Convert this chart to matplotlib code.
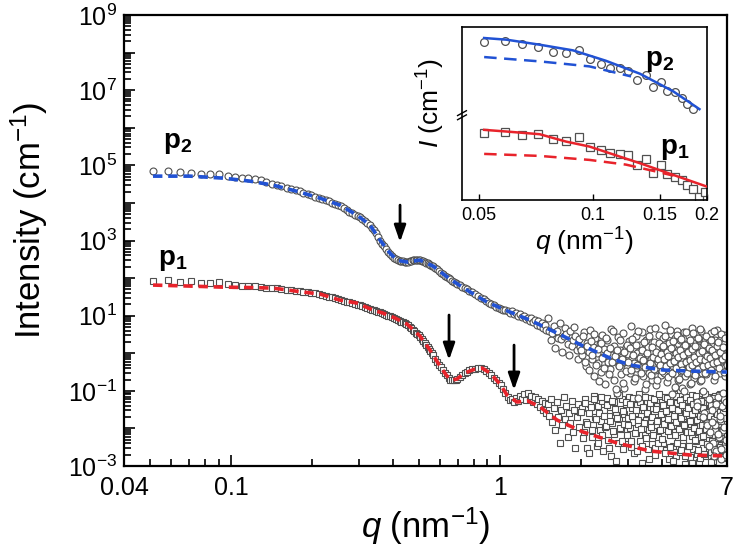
import numpy as np
import matplotlib
matplotlib.use('Agg')
import matplotlib.pyplot as plt
from matplotlib.ticker import FixedLocator, FuncFormatter, LogLocator, NullFormatter

plt.rcParams['font.family'] = 'Liberation Sans'
plt.rcParams['mathtext.fontset'] = 'custom'
plt.rcParams['mathtext.rm'] = 'Liberation Sans'
plt.rcParams['mathtext.it'] = 'Liberation Sans:italic'
plt.rcParams['mathtext.bf'] = 'Liberation Sans:bold'

# ---- main panel: q (nm^-1), intensity (cm^-1) ----
q_low = [0.0511, 0.0582, 0.0646, 0.0710, 0.0774, 0.0838, 0.0905, 0.0973, 0.1035, 0.1096,
         0.1160, 0.1229, 0.129, 0.135, 0.142, 0.148, 0.154, 0.161, 0.167, 0.174,
         0.180, 0.186, 0.193, 0.199, 0.206, 0.212, 0.219, 0.225, 0.232, 0.238,
         0.244, 0.251, 0.257, 0.264, 0.270, 0.276, 0.283, 0.289, 0.296, 0.302,
         0.308, 0.315, 0.321, 0.328, 0.334, 0.340, 0.347, 0.353, 0.360, 0.366,
         0.372, 0.379, 0.385, 0.392, 0.398, 0.404, 0.411, 0.417, 0.424, 0.430,
         0.436, 0.443, 0.449, 0.456, 0.462, 0.468, 0.475, 0.481, 0.488, 0.494,
         0.500, 0.507, 0.513, 0.520, 0.526, 0.532, 0.539, 0.545, 0.552, 0.558,
         0.564, 0.575, 0.585, 0.595, 0.605, 0.615, 0.625, 0.635, 0.645, 0.655,
         0.665, 0.675, 0.685, 0.695, 0.71, 0.725, 0.74, 0.755, 0.77, 0.79,
         0.81, 0.83, 0.85, 0.87, 0.89, 0.91, 0.93, 0.95, 0.97, 0.99]
p2_low = [7.14e4, 7.14e4, 6.73e4, 6.32e4, 5.73e4, 5.84e4, 5.84e4, 5.26e4, 4.95e4, 4.66e4,
          4.49e4, 4.22e4, 4.04e4, 3.55e4, 3.20e4, 3.05e4, 2.80e4, 2.55e4, 2.35e4, 2.15e4,
          2.02e4, 1.85e4, 1.70e4, 1.60e4, 1.45e4, 1.38e4, 1.28e4, 1.18e4, 1.10e4, 1.02e4,
          9.6e3, 9.0e3, 8.2e3, 7.4e3, 6.6e3, 5.9e3, 5.3e3, 4.9e3, 4.5e3, 4.1e3,
          3.7e3, 3.3e3, 2.9e3, 2.6e3, 2.2e3, 1.9e3, 1.55e3, 1.25e3, 1.0e3, 820,
          700, 590, 500, 440, 390, 350, 320, 300, 290, 285,
          280, 275, 270, 272, 280, 290, 295, 300, 305, 300,
          300, 295, 290, 280, 270, 255, 245, 235, 225, 215,
          205, 190, 170, 155, 140, 125, 112, 104, 98, 92,
          85, 80, 74, 70, 64, 58, 54, 50, 46, 42,
          38, 34, 30, 28, 25, 22, 21, 19, 17.5, 16]
p1_low = [85, 88, 80, 83, 72, 75, 77, 68, 65, 63,
          62, 60, 58, 56, 55, 53, 51, 49, 48, 46,
          45, 43, 42, 40, 39, 37.5, 36, 34, 32, 30.5,
          29, 27.5, 26, 24.5, 23.5, 22.5, 21.5, 20.5, 19.5, 19,
          18, 17, 16, 15, 14.5, 13.8, 13.2, 12.7, 12.2, 11.8,
          11.2, 10.6, 10.1, 9.6, 9.2, 8.7, 8.2, 7.8, 7.3, 6.9,
          6.6, 6.3, 6.1, 5.6, 5.1, 4.6, 4.2, 3.8, 3.5, 3.2,
          3.0, 2.7, 2.4, 2.1, 1.85, 1.65, 1.45, 1.3, 1.15, 1.0,
          0.88, 0.72, 0.6, 0.5, 0.42, 0.35, 0.3, 0.26, 0.22, 0.2,
          0.19, 0.195, 0.2, 0.21, 0.23, 0.26, 0.29, 0.32, 0.35, 0.37,
          0.39, 0.40, 0.40, 0.37, 0.33, 0.30, 0.26, 0.22, 0.19, 0.16]

q_mid = [1.01, 1.03, 1.05, 1.07, 1.09, 1.11, 1.13, 1.15, 1.17, 1.19,
         1.21, 1.23, 1.25, 1.27, 1.29, 1.31, 1.33, 1.35, 1.37, 1.39,
         1.41, 1.43, 1.45, 1.47, 1.49, 1.51, 1.53, 1.55, 1.57, 1.59,
         1.61, 1.63, 1.65, 1.67, 1.69, 1.71, 1.73, 1.75, 1.77, 1.79,
         1.81, 1.83, 1.85, 1.87, 1.89, 1.91, 1.93, 1.95, 1.97, 1.99]
p2_mid = [15.5, 14.0, 14.5, 13.0, 12.0, 13.5, 11.0, 11.5, 10.0, 10.8,
          9.0, 9.6, 8.0, 8.8, 7.2, 8.5, 6.6, 7.5, 5.8, 7.0,
          5.2, 6.5, 4.8, 5.5, 4.2, 8.5, 3.8, 2.2, 3.4, 5.2,
          1.4, 4.0, 2.6, 6.5, 2.4, 1.1, 2.8, 4.6, 3.2, 1.8,
          0.9, 3.8, 1.6, 2.2, 5.0, 2.9, 1.2, 0.7, 2.4, 1.5]
p1_mid = [0.14, 0.11, 0.085, 0.07, 0.058, 0.062, 0.05, 0.066, 0.055, 0.075,
          0.06, 0.08, 0.058, 0.085, 0.062, 0.075, 0.05, 0.07, 0.045, 0.062,
          0.038, 0.055, 0.03, 0.048, 0.026, 0.045, 0.022, 0.06, 0.015, 0.035,
          0.009, 0.05, 0.02, 0.004, 0.03, 0.012, 0.07, 0.018, 0.04, 0.006,
          0.025, 0.014, 0.055, 0.008, 0.03, 0.003, 0.02, 0.045, 0.011, 0.028]

q_tail = [2.02, 2.05, 2.07, 2.10, 2.12, 2.15, 2.17, 2.20, 2.22, 2.25,
          2.27, 2.30, 2.32, 2.35, 2.37, 2.40, 2.42, 2.45, 2.47, 2.50,
          2.52, 2.55, 2.57, 2.60, 2.62, 2.65, 2.67, 2.70, 2.72, 2.75,
          2.77, 2.80, 2.82, 2.85, 2.87, 2.90, 2.92, 2.95, 2.97, 3.00,
          3.02, 3.05, 3.07, 3.10, 3.12, 3.15, 3.17, 3.20, 3.22, 3.25,
          3.27, 3.30, 3.32, 3.35, 3.37, 3.40, 3.42, 3.45, 3.47, 3.50,
          3.52, 3.55, 3.57, 3.60, 3.62, 3.65, 3.67, 3.70, 3.72, 3.75,
          3.77, 3.80, 3.82, 3.85, 3.87, 3.90, 3.92, 3.95, 3.97, 4.00,
          4.02, 4.05, 4.07, 4.10, 4.12, 4.15, 4.17, 4.20, 4.22, 4.25,
          4.27, 4.30, 4.32, 4.35, 4.37, 4.40, 4.42, 4.45, 4.47, 4.50,
          4.52, 4.55, 4.57, 4.60, 4.62, 4.65, 4.67, 4.70, 4.72, 4.75,
          4.77, 4.80, 4.82, 4.85, 4.87, 4.90, 4.92, 4.95, 4.97, 5.00,
          5.02, 5.05, 5.07, 5.10, 5.12, 5.15, 5.17, 5.20, 5.22, 5.25,
          5.27, 5.30, 5.32, 5.35, 5.37, 5.40, 5.42, 5.45, 5.47, 5.50,
          5.52, 5.55, 5.57, 5.60, 5.62, 5.65, 5.67, 5.70, 5.72, 5.75,
          5.77, 5.80, 5.82, 5.85, 5.87, 5.90, 5.92, 5.95, 5.97, 6.00,
          6.02, 6.05, 6.07, 6.10, 6.12, 6.15, 6.17, 6.20, 6.22, 6.25,
          6.27, 6.30, 6.32, 6.35, 6.37, 6.40, 6.42, 6.45, 6.47, 6.50,
          6.52, 6.55, 6.57, 6.60, 6.62, 6.65, 6.67, 6.70, 6.72, 6.75,
          6.77, 6.80, 6.82, 6.85, 6.87, 6.90, 6.92, 6.95, 6.97, 7.00]
p2_tail = [0.9, 3.6, 1.3, 0.45, 1.9, 1.1, 4.2, 0.7, 1.5, 0.25,
           2.6, 1.0, 0.55, 1.8, 0.32, 3.1, 0.8, 1.3, 0.15, 2.2,
           0.6, 1.1, 0.38, 4.5, 0.9, 0.2, 1.6, 0.7, 0.09, 2.7,
           0.5, 1.2, 0.28, 0.8, 3.4, 0.12, 0.6, 1.5, 0.4, 0.95,
           2.1, 0.3, 5.2, 0.75, 1.3, 0.18, 0.55, 2.8, 0.4, 1.0,
           0.065, 1.7, 0.5, 0.85, 3.6, 0.25, 1.2, 0.6, 0.11, 2.3,
           0.45, 0.9, 1.5, 0.3, 4.4, 0.7, 0.2, 1.1, 0.5, 2.0,
           0.35, 0.8, 0.14, 1.4, 0.6, 3.0, 0.42, 0.95, 0.26, 1.6,
           0.5, 2.5, 0.3, 0.85, 5.5, 0.4, 1.2, 0.17, 0.65, 1.9,
           0.35, 0.9, 3.3, 0.55, 0.08, 1.4, 0.45, 0.75, 2.6, 0.28,
           1.0, 0.6, 4.0, 0.2, 1.2, 0.5, 0.85, 2.2, 0.33, 0.7,
           0.12, 1.5, 0.42, 3.6, 0.95, 0.25, 0.6, 1.8, 0.38, 1.1,
           0.5, 2.9, 0.3, 0.8, 0.15, 1.3, 4.8, 0.45, 0.65, 1.9,
           0.22, 1.0, 0.55, 3.2, 0.35, 0.05, 0.85, 1.5, 0.4, 2.4,
           0.7, 0.18, 1.1, 0.5, 3.9, 0.3, 0.9, 0.1, 1.6, 0.45,
           0.025, 2.1, 0.6, 0.28, 1.2, 0.014, 0.8, 2.7, 0.4, 0.06,
           1.3, 0.35, 0.008, 0.9, 3.4, 0.5, 0.03, 1.7, 0.004, 0.65,
           0.2, 2.3, 0.012, 0.8, 0.45, 0.0025, 1.1, 4.2, 0.07, 0.55,
           0.006, 1.5, 0.3, 0.018, 0.9, 2.6, 0.0015, 0.4, 0.04, 1.2,
           0.009, 0.7, 3.0, 0.003, 0.25, 1.4, 0.05, 0.6, 0.002, 0.35]
p1_tail = [0.035, 0.008, 0.06, 0.015, 0.003, 0.025, 0.045, 0.006, 0.012, 0.075,
           0.02, 0.0035, 0.04, 0.009, 0.016, 0.055, 0.0025, 0.03, 0.011, 0.065,
           0.005, 0.022, 0.038, 0.0018, 0.014, 0.05, 0.007, 0.027, 0.085, 0.004,
           0.018, 0.033, 0.0095, 0.06, 0.0028, 0.024, 0.012, 0.045, 0.0055, 0.019,
           0.07, 0.01, 0.0032, 0.036, 0.015, 0.052, 0.0022, 0.026, 0.0075, 0.042,
           0.013, 0.08, 0.0045, 0.021, 0.0012, 0.058, 0.0105, 0.031, 0.0065, 0.017,
           0.047, 0.0028, 0.024, 0.009, 0.065, 0.0155, 0.0038, 0.034, 0.0085, 0.055,
           0.002, 0.02, 0.012, 0.04, 0.006, 0.075, 0.0165, 0.003, 0.028, 0.011,
           0.05, 0.0042, 0.019, 0.0095, 0.068, 0.0026, 0.032, 0.014, 0.045, 0.0015,
           0.023, 0.0068, 0.06, 0.011, 0.037, 0.0034, 0.018, 0.082, 0.008, 0.027,
           0.0019, 0.048, 0.0125, 0.0055, 0.03, 0.016, 0.0725, 0.0024, 0.021, 0.0098,
           0.041, 0.0048, 0.015, 0.062, 0.0011, 0.026, 0.0078, 0.038, 0.0135, 0.0035,
           0.056, 0.0092, 0.022, 0.0017, 0.035, 0.0128, 0.0063, 0.078, 0.0185, 0.0029,
           0.044, 0.0105, 0.025, 0.0045, 0.066, 0.0155, 0.0021, 0.03, 0.0082, 0.05,
           0.0013, 0.019, 0.0115, 0.04, 0.0058, 0.085, 0.0245, 0.0031, 0.0145, 0.058,
           0.0072, 0.033, 0.0018, 0.0205, 0.0095, 0.047, 0.0039, 0.0275, 0.0125, 0.07,
           0.0052, 0.016, 0.036, 0.0023, 0.0108, 0.062, 0.0068, 0.022, 0.0014, 0.043,
           0.0135, 0.0042, 0.075, 0.0185, 0.0088, 0.029, 0.0027, 0.052, 0.012, 0.0058,
           0.034, 0.0019, 0.0165, 0.08, 0.0076, 0.024, 0.0036, 0.045, 0.0112, 0.0016,
           0.031, 0.0062, 0.066, 0.0145, 0.0026, 0.0385, 0.0098, 0.0205, 0.0045, 0.055]

# second high-q sweep (interleaved q points, same noisy region)
q_tail2 = [2.01, 2.04, 2.08, 2.11, 2.14, 2.18, 2.21, 2.24, 2.28, 2.31,
           2.34, 2.38, 2.41, 2.44, 2.48, 2.51, 2.54, 2.58, 2.61, 2.64,
           2.68, 2.71, 2.74, 2.78, 2.81, 2.84, 2.88, 2.91, 2.94, 2.98,
           3.01, 3.04, 3.08, 3.11, 3.14, 3.18, 3.21, 3.24, 3.28, 3.31,
           3.34, 3.38, 3.41, 3.44, 3.48, 3.51, 3.54, 3.58, 3.61, 3.64,
           3.68, 3.71, 3.74, 3.78, 3.81, 3.84, 3.88, 3.91, 3.94, 3.98,
           4.01, 4.04, 4.08, 4.11, 4.14, 4.18, 4.21, 4.24, 4.28, 4.31,
           4.34, 4.38, 4.41, 4.44, 4.48, 4.51, 4.54, 4.58, 4.61, 4.64,
           4.68, 4.71, 4.74, 4.78, 4.81, 4.84, 4.88, 4.91, 4.94, 4.98,
           5.01, 5.04, 5.08, 5.11, 5.14, 5.18, 5.21, 5.24, 5.28, 5.31,
           5.34, 5.38, 5.41, 5.44, 5.48, 5.51, 5.54, 5.58, 5.61, 5.64,
           5.68, 5.71, 5.74, 5.78, 5.81, 5.84, 5.88, 5.91, 5.94, 5.98,
           6.01, 6.04, 6.08, 6.11, 6.14, 6.18, 6.21, 6.24, 6.28, 6.31,
           6.34, 6.38, 6.41, 6.44, 6.48, 6.51, 6.54, 6.58, 6.61, 6.64,
           6.68, 6.71, 6.74, 6.78, 6.81, 6.84, 6.88, 6.91, 6.94, 6.98]
p2_tail2 = [1.2, 2.8, 0.6, 1.6, 0.35, 2.1, 0.9, 3.3, 0.5, 1.3,
            0.18, 1.9, 0.75, 0.4, 2.5, 1.0, 0.28, 1.4, 0.6, 3.9,
            0.85, 0.11, 1.2, 0.45, 2.2, 0.7, 0.16, 1.05, 0.33, 1.7,
            0.6, 1.4, 0.35, 2.4, 0.9, 0.22, 1.7, 0.5, 3.8, 0.75,
            0.3, 1.2, 0.65, 2.0, 0.42, 0.15, 1.0, 2.9, 0.55, 0.27,
            1.5, 0.8, 0.38, 4.6, 1.1, 0.19, 0.7, 1.9, 0.48, 0.95,
            0.33, 1.6, 0.7, 2.8, 0.45, 1.1, 0.24, 0.85, 4.2, 0.55,
            1.35, 0.3, 2.1, 0.62, 0.13, 1.0, 0.4, 3.1, 0.78, 0.21,
            1.25, 0.52, 2.4, 0.36, 0.9, 0.1, 1.7, 0.6, 3.6, 0.29,
            1.05, 0.44, 2.2, 0.68, 0.16, 1.3, 0.5, 3.5, 0.8, 0.26,
            1.6, 0.58, 0.04, 2.6, 0.37, 1.0, 0.7, 4.4, 0.2, 1.15,
            0.46, 0.02, 1.8, 0.66, 0.3, 2.9, 0.85, 0.012, 0.5, 1.4,
            0.0035, 0.75, 2.3, 0.35, 0.015, 1.2, 0.55, 3.8, 0.0018, 0.9,
            0.25, 0.045, 1.6, 0.6, 0.007, 2.0, 0.4, 0.022, 1.1, 3.2,
            0.0028, 0.7, 0.09, 1.45, 0.32, 0.011, 2.5, 0.85, 0.005, 0.5]
p1_tail2 = [0.028, 0.0055, 0.048, 0.013, 0.0022, 0.037, 0.009, 0.062, 0.0175, 0.004,
            0.026, 0.07, 0.0065, 0.021, 0.0115, 0.042, 0.003, 0.016, 0.055, 0.0085,
            0.033, 0.0014, 0.019, 0.078, 0.0105, 0.0045, 0.029, 0.0135, 0.051, 0.0068,
            0.012, 0.045, 0.0045, 0.022, 0.065, 0.0075, 0.03, 0.0025, 0.017, 0.052,
            0.0095, 0.0035, 0.038, 0.014, 0.07, 0.0055, 0.026, 0.0015, 0.048, 0.011,
            0.02, 0.0065, 0.06, 0.003, 0.033, 0.0155, 0.0042, 0.08, 0.009, 0.024,
            0.0052, 0.041, 0.0135, 0.0022, 0.029, 0.064, 0.0085, 0.018, 0.0032, 0.05,
            0.0115, 0.035, 0.0014, 0.022, 0.0068, 0.075, 0.0145, 0.0041, 0.031, 0.0098,
            0.056, 0.0026, 0.019, 0.043, 0.0058, 0.0125, 0.0019, 0.067, 0.025, 0.008,
            0.036, 0.0034, 0.016, 0.058, 0.0078, 0.0245, 0.0012, 0.045, 0.0105, 0.0048,
            0.03, 0.072, 0.0165, 0.0027, 0.039, 0.0088, 0.0215, 0.0016, 0.053, 0.0125,
            0.0062, 0.034, 0.0021, 0.0185, 0.083, 0.0095, 0.0038, 0.027, 0.0145, 0.049,
            0.0072, 0.021, 0.0013, 0.041, 0.0115, 0.0046, 0.063, 0.0175, 0.0029, 0.032,
            0.0088, 0.052, 0.0019, 0.0235, 0.0135, 0.0055, 0.077, 0.028, 0.0033, 0.0155,
            0.044, 0.0082, 0.0017, 0.026, 0.06, 0.0105, 0.0039, 0.036, 0.0195, 0.0068]

# fitted curves
fit_q2 = [0.0513, 0.0704, 0.0934, 0.1177, 0.1433, 0.1806, 0.2144, 0.2544, 0.2943, 0.3291,
          0.3584, 0.3904, 0.4145, 0.4516, 0.5049, 0.5645, 0.6529, 0.7551, 0.8962, 1.091,
          1.295, 1.633, 2.040, 2.570, 3.051, 4.047, 5.103, 7.0]
fit_p2 = [5.16e4, 5.16e4, 4.57e4, 3.80e4, 2.98e4, 1.94e4, 1.34e4, 8.75e3, 4.74e3, 2.57e3,
          1.03e3, 462, 301, 267, 301, 209, 94, 48, 23, 12.5,
          7.6, 3.45, 1.56, 0.746, 0.486, 0.358, 0.336, 0.316]
fit_q1 = [0.0513, 0.0704, 0.0911, 0.1177, 0.1433, 0.1854, 0.2144, 0.2544, 0.2943, 0.3376,
          0.3678, 0.4076, 0.4516, 0.5049, 0.550, 0.599, 0.636, 0.664, 0.693, 0.742,
          0.809, 0.859, 0.920, 1.002, 1.064, 1.159, 1.274, 1.412, 1.633, 2.040,
          2.731, 3.620, 5.103, 7.0]
fit_p1 = [65.2, 61.3, 57.7, 56.0, 54.2, 42.5, 37.6, 26.0, 21.6, 14.1,
          11.7, 8.65, 5.98, 2.87, 1.22, 0.457, 0.248, 0.194, 0.206, 0.298,
          0.380, 0.404, 0.298, 0.152, 0.0774, 0.0505, 0.0536, 0.0372, 0.0167, 0.00804,
          0.00409, 0.00251, 0.00196, 0.00185]

# arrows marking the form-factor minima
arrow_q = [0.4256, 0.6475, 1.13]
arrow_tip = [908, 0.66, 0.105]
arrow_tail = [8750, 10.4, 1.65]

# ---- inset (low-q zoom, arbitrary intensity units) ----
ins_q = [0.0515, 0.0585, 0.0647, 0.0713, 0.0784, 0.0847, 0.0918, 0.0983, 0.105, 0.111,
         0.118, 0.124, 0.131, 0.138, 0.144, 0.151, 0.157, 0.165, 0.172, 0.177,
         0.184, 0.191, 0.197]
ins_p2 = [47.3, 47.6, 46.7, 45.9, 44.3, 44.0, 44.8, 42.2, 40.8, 39.5,
          39.5, 38.7, 35.8, 37.4, 33.7, 35.2, 32.7, 32.2, 30.5, 28.6, 27.2]
ins_p1 = [20.0, 20.5, 19.5, 19.8, 18.3, 17.6, 19.0, 16.0, 15.0, 14.0,
          13.7, 13.5, 10.5, 12.2, 8.2, 10.5, 7.7, 6.8, 6.0, 4.4,
          3.2, 1.0, 2.5]
ins_fit2_q = [0.0515, 0.059, 0.0722, 0.0885, 0.108, 0.133, 0.163, 0.191]
ins_fit2 = [48.5, 48.0, 46.5, 44.8, 41.7, 37.8, 32.5, 27.2]
ins_guin2_q = [0.0515, 0.0722, 0.085, 0.0978, 0.126]
ins_guin2 = [42.8, 41.5, 40.7, 40.0, 37.0]
ins_fit1_q = [0.0515, 0.059, 0.0722, 0.0847, 0.0978, 0.133, 0.163, 0.2]
ins_fit1 = [21.0, 20.5, 19.7, 17.5, 16.0, 11.0, 7.5, 4.0]
ins_guin1_q = [0.0515, 0.0722, 0.0978, 0.122, 0.147, 0.163]
ins_guin1 = [13.8, 13.2, 12.0, 10.6, 8.5, 7.3]

blue = '#2152d4'
red = '#e8232b'
edge = '#505050'

fig = plt.figure(figsize=(7.34, 5.52), dpi=100)
ax = fig.add_axes([0.1689, 0.1558, 0.8215, 0.8170])

q1 = q_low + q_mid + q_tail + q_tail2
I1 = p1_low + p1_mid + p1_tail + p1_tail2
I2 = p2_low + p2_mid + p2_tail + p2_tail2
ax.plot(q1, I1, 's', ms=4.5, mfc='white', mec=edge, mew=0.8, zorder=2)
ax.plot(q1, I2, 'o', ms=5.0, mfc='white', mec=edge, mew=0.8, zorder=2)
ax.plot(fit_q2, fit_p2, color=blue, lw=2.6, dashes=(2.6, 1.6), zorder=3)
ax.plot(fit_q1, fit_p1, color=red, lw=2.6, dashes=(2.6, 1.6), zorder=3)

for qa, tip, tail in zip(arrow_q, arrow_tip, arrow_tail):
    ax.annotate('', xy=(qa, tip), xytext=(qa, tail),
                arrowprops=dict(arrowstyle='-|>,head_width=0.35,head_length=1.0',
                                lw=2, color='black', shrinkA=0, shrinkB=0),
                zorder=4)

ax.text(0.0635, 3.9e5, r'$\mathbf{p}_\mathbf{2}$', fontsize=20, ha='center', va='center')
ax.text(0.0608, 3.0e2, r'$\mathbf{p}_\mathbf{1}$', fontsize=20, ha='center', va='center')

ax.set_xscale('log')
ax.set_yscale('log')
ax.set_xlim(0.04, 7)
ax.set_ylim(1e-3, 1e9)

ax.xaxis.set_major_locator(FixedLocator([0.04, 0.1, 1, 7]))
ax.set_xticklabels(['0.04', '0.1', '1', '7'])
ax.xaxis.set_minor_locator(FixedLocator([0.05, 0.06, 0.07, 0.08, 0.09, 0.2, 0.3, 0.4, 0.5,
                                         0.6, 0.7, 0.8, 0.9, 2, 3, 4, 5, 6]))
ax.xaxis.set_minor_formatter(NullFormatter())
ax.yaxis.set_major_locator(LogLocator(base=10, numticks=20))
ax.yaxis.set_minor_locator(LogLocator(base=10, subs=np.arange(2, 10), numticks=20))
ax.yaxis.set_minor_formatter(NullFormatter())


def odd_decades(v, pos):
    e = int(round(np.log10(v)))
    return r'$10^{%d}$' % e if e % 2 else ''


ax.yaxis.set_major_formatter(FuncFormatter(odd_decades))
ax.tick_params(which='both', direction='in', width=1.2, labelsize=18)
ax.tick_params(which='major', length=8)
ax.tick_params(which='minor', length=5)
ax.tick_params(axis='x', pad=7)
ax.tick_params(axis='y', pad=5)
for s in ax.spines.values():
    s.set_linewidth(1.6)

ax.set_xlabel(r'$q$ (nm$^{-1}$)', fontsize=25, labelpad=4)
ax.set_ylabel(r'Intensity (cm$^{-1}$)', fontsize=25)
ax.yaxis.set_label_coords(-0.122, 0.545)

# inset
axi = fig.add_axes([0.6294, 0.6377, 0.3338, 0.3134])
axi.plot(ins_q[:len(ins_p2)], ins_p2, 'o', ms=5.6, mfc='white', mec=edge, mew=0.9, zorder=2)
axi.plot(ins_q, ins_p1, 's', ms=5.4, mfc='white', mec=edge, mew=0.9, zorder=2)
axi.plot(ins_fit2_q, ins_fit2, color=blue, lw=1.8, zorder=3)
axi.plot(ins_guin2_q, ins_guin2, color=blue, lw=1.8, dashes=(5, 3), zorder=3)
axi.plot(ins_fit1_q, ins_fit1, color=red, lw=1.8, zorder=3)
axi.plot(ins_guin1_q, ins_guin1, color=red, lw=1.8, dashes=(5, 3), zorder=3)
axi.set_xscale('log')
axi.set_xlim(0.045, 0.2)
axi.set_ylim(0, 51.8)
axi.set_yticks([])
axi.xaxis.set_major_locator(FixedLocator([0.05, 0.1, 0.15, 0.2]))
axi.set_xticklabels(['0.05', '0.1', '0.15', '0.2'])
axi.xaxis.set_minor_locator(FixedLocator([]))
axi.tick_params(axis='x', direction='in', length=4, width=1, labelsize=13, pad=5)
for s in axi.spines.values():
    s.set_linewidth(1.2)
axi.set_xlabel(r'$q$ (nm$^{-1}$)', fontsize=19, labelpad=1)
axi.set_ylabel(r'$I$ (cm$^{-1}$)', fontsize=19)
axi.yaxis.set_label_coords(-0.06, 0.56)
axi.text(0.150, 41.7, r'$\mathbf{p}_\mathbf{2}$', fontsize=20, ha='center', va='center')
axi.text(0.164, 15.3, r'$\mathbf{p}_\mathbf{1}$', fontsize=20, ha='center', va='center')

# axis break mark on the inset's left spine
yb = 0.49
for dy in (-0.012, 0.012):
    axi.plot([-0.018, 0.018], [yb + dy - 0.014, yb + dy + 0.014], transform=axi.transAxes,
             color='black', lw=1, clip_on=False, zorder=5)

fig.savefig('out.png', dpi=100)
